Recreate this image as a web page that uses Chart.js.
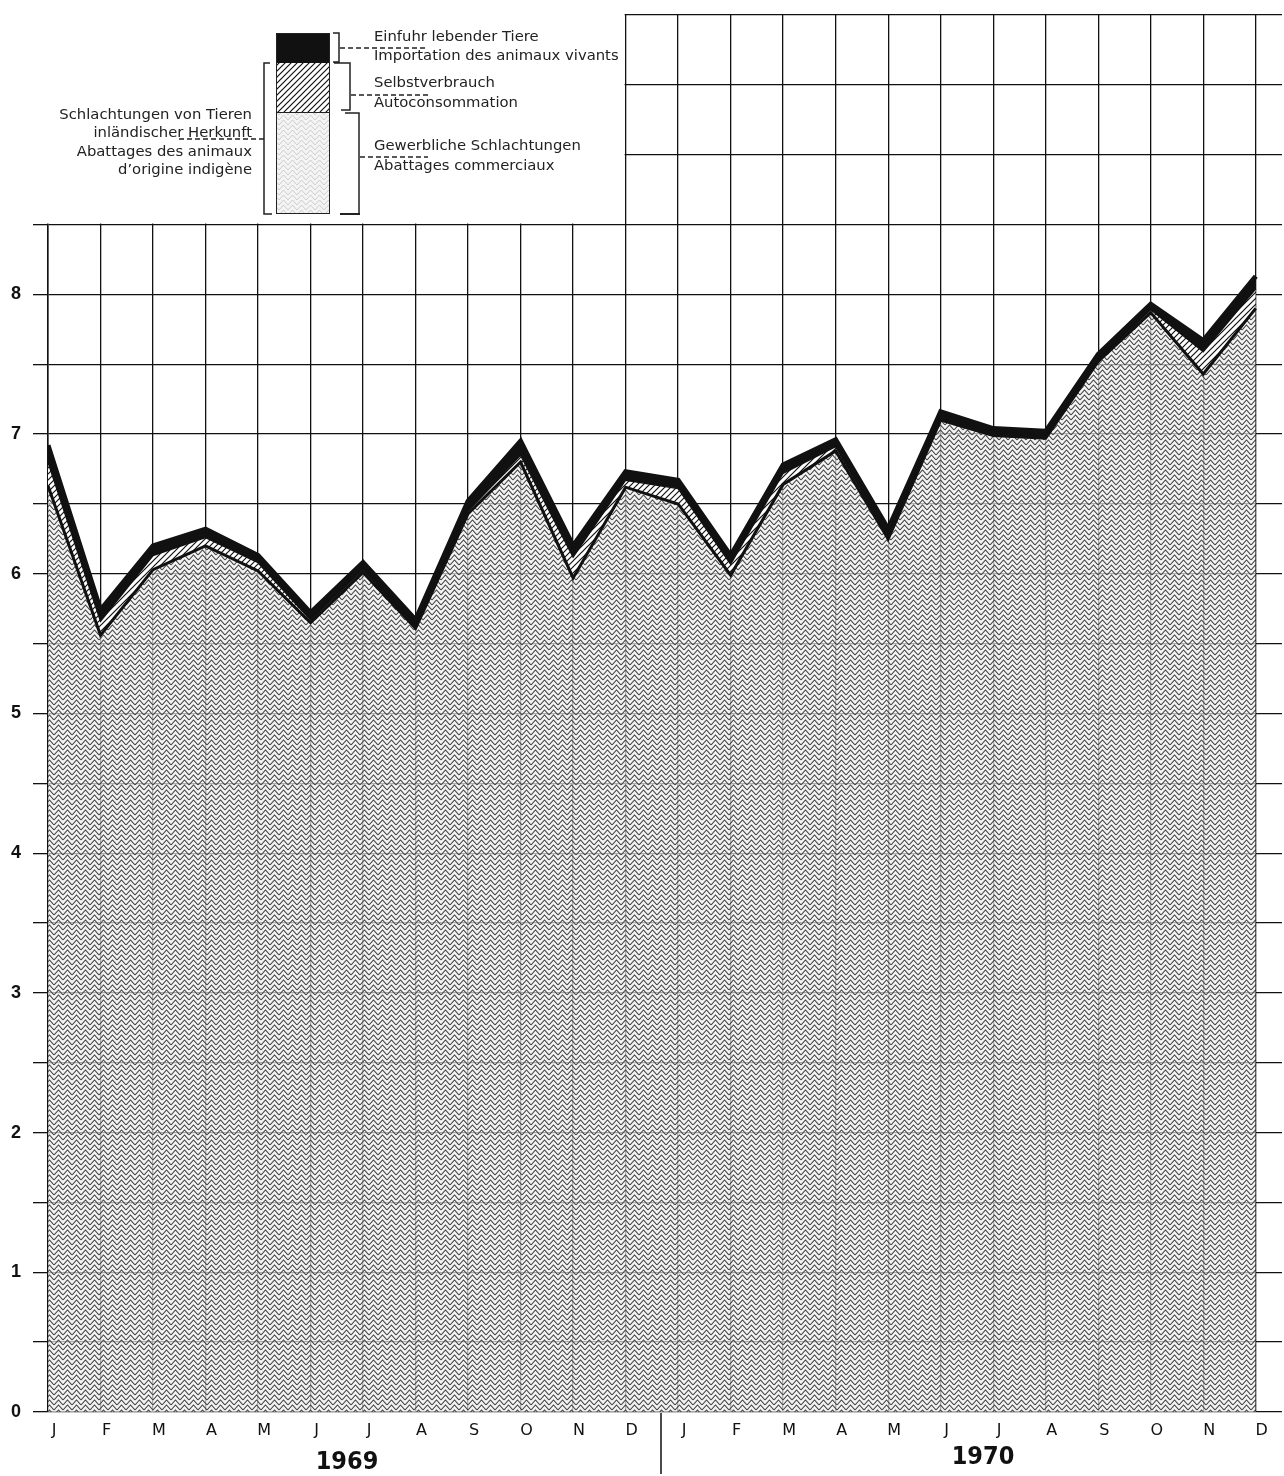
<!DOCTYPE html>
<html>
<head>
<meta charset="utf-8">
<script src="https://cdn.jsdelivr.net/npm/chart.js@4.4.1/dist/chart.umd.min.js"></script>
<style>
  body { margin: 0; background: #ffffff; }
  #wrap { width: 1284px; height: 1476px; position: relative; }
</style>
</head>
<body>
<div id="wrap"><canvas id="slaughterCanvas"></canvas></div>
<script>
// months for both years
const months = ['J', 'F', 'M', 'A', 'M', 'J', 'J', 'A', 'S', 'O', 'N', 'D'];
const monthLabels = months.concat(months);
const years = ['1969', '1970'];

// series values (stacked)
const commercial = [6.63, 5.56, 6.03, 6.20, 6.02, 5.65, 6.01, 5.61, 6.43, 6.80, 5.97, 6.62,
                    6.50, 5.99, 6.64, 6.88, 6.25, 7.10, 6.99, 6.97, 7.52, 7.87, 7.43, 7.90];
const selfUse    = [0.17, 0.10, 0.10, 0.06, 0.06, 0.02, 0.02, 0.01, 0.02, 0.05, 0.15, 0.05,
                    0.11, 0.08, 0.08, 0.03, 0.02, 0.01, 0.01, 0.01, 0.01, 0.02, 0.16, 0.14];
const imports    = [0.12, 0.08, 0.07, 0.06, 0.05, 0.05, 0.05, 0.05, 0.07, 0.10, 0.08, 0.06,
                    0.06, 0.06, 0.06, 0.05, 0.05, 0.05, 0.04, 0.04, 0.04, 0.04, 0.08, 0.09];

const yLabels = ['0', '1', '2', '3', '4', '5', '6', '7', '8'];

const canvas = document.getElementById('slaughterCanvas');
const ctx = canvas.getContext('2d');

// zig-zag texture for the commercial slaughter area
function zigzag(bg, ink, w) {
    const c = document.createElement('canvas');
    c.width = 9; c.height = 5;
    const g = c.getContext('2d');
    g.fillStyle = bg;
    g.fillRect(0, 0, 9, 5);
    g.strokeStyle = ink;
    g.lineWidth = w;
    for (let k = -3; k <= 3; k++) {
        const y0 = k * 5;
        g.beginPath();
        g.moveTo(0, y0 + 5);
        g.lineTo(4.5, y0);
        g.lineTo(9, y0 + 5);
        g.stroke();
    }
    return ctx.createPattern(c, 'repeat');
}

// diagonal hatching for self consumption
function hatch() {
    const c = document.createElement('canvas');
    c.width = 6; c.height = 6;
    const g = c.getContext('2d');
    g.fillStyle = '#ffffff';
    g.fillRect(0, 0, 6, 6);
    g.strokeStyle = '#111';
    g.lineWidth = 1.2;
    g.beginPath();
    g.moveTo(-1, 7); g.lineTo(7, -1);
    g.moveTo(-4, 4); g.lineTo(4, -4);
    g.moveTo(2, 10); g.lineTo(10, 2);
    g.stroke();
    return ctx.createPattern(c, 'repeat');
}

const gray = zigzag('rgba(238,238,238,0.7)', '#404040', 1.05);
const lightGray = zigzag('#f4f4f4', '#c8c8c8', 0.9);
const stripes = hatch();

const toPts = arr => arr.map((v, i) => ({ x: i, y: v }));

// blank the top-left corner where the grid stops, then draw the key
const frame = {
    id: 'frame',
    beforeDatasetsDraw(chart) {
        const x = chart.scales.x, y = chart.scales.y;
        const c = chart.ctx;
        c.save();
        c.fillStyle = '#ffffff';
        c.fillRect(0, 0, x.getPixelForValue(11) - 1, y.getPixelForValue(8.5) - 1);
        c.restore();
    },
    afterDraw(chart) {
        const c = chart.ctx;
        c.save();

        // year labels and divider
        c.strokeStyle = '#111';
        c.lineWidth = 1.5;
        c.beginPath();
        c.moveTo(661, 1413); c.lineTo(661, 1474);
        c.stroke();
        c.fillStyle = '#111';
        c.font = 'bold 25px "DejaVu Sans Condensed", "Liberation Sans", sans-serif';
        c.textAlign = 'center';
        c.textBaseline = 'middle';
        c.fillText(years[0], 347, 1462);
        c.fillText(years[1], 983, 1457);

        // key box
        c.fillStyle = '#111';
        c.fillRect(276, 33, 54, 30);
        c.fillStyle = stripes;
        c.fillRect(276, 63, 54, 49);
        c.fillStyle = lightGray;
        c.fillRect(276, 112, 54, 102);
        c.strokeStyle = '#222';
        c.lineWidth = 1;
        c.strokeRect(276.5, 33.5, 53, 180);
        c.beginPath();
        c.moveTo(276, 112.5); c.lineTo(330, 112.5);
        c.stroke();

        // brackets
        c.lineWidth = 1.5;
        c.beginPath();
        c.moveTo(333, 33); c.lineTo(339, 33); c.lineTo(339, 62); c.lineTo(333, 62);
        c.moveTo(334, 63); c.lineTo(350, 63); c.lineTo(350, 110); c.lineTo(341, 110);
        c.moveTo(345, 113); c.lineTo(359, 113); c.lineTo(359, 213);
        c.moveTo(270, 63); c.lineTo(264, 63); c.lineTo(264, 214); c.lineTo(272, 214);
        c.stroke();
        c.lineWidth = 2;
        c.beginPath();
        c.moveTo(340, 214); c.lineTo(360, 214);
        c.stroke();

        // dashed leaders
        c.lineWidth = 1.5;
        c.setLineDash([5, 3]);
        c.beginPath();
        c.moveTo(340, 48); c.lineTo(428, 48);
        c.moveTo(351, 95); c.lineTo(428, 95);
        c.moveTo(360, 157); c.lineTo(428, 157);
        c.moveTo(264, 139); c.lineTo(176, 139);
        c.stroke();
        c.setLineDash([]);

        // key texts
        c.fillStyle = '#222';
        c.font = '14.8px "DejaVu Sans", sans-serif';
        c.textAlign = 'left';
        c.fillText('Einfuhr lebender Tiere', 374, 37);
        c.fillText('Importation des animaux vivants', 374, 56);
        c.fillText('Selbstverbrauch', 374, 83);
        c.fillText('Autoconsommation', 374, 103);
        c.fillText('Gewerbliche Schlachtungen', 374, 146);
        c.fillText('Abattages commerciaux', 374, 166);
        c.textAlign = 'right';
        c.fillText('Schlachtungen von Tieren', 252, 115);
        c.fillText('inländischer Herkunft', 252, 133);
        c.fillText('Abattages des animaux', 252, 152);
        c.fillText('d\u2019origine indigène', 252, 170);
        c.restore();
    }
};

const slaughterChart = new Chart(ctx, {
    type: 'line',
    data: {
        datasets: [{
            label: 'Gewerbliche Schlachtungen',
            data: toPts(commercial),
            backgroundColor: gray,
            borderColor: '#111',
            borderWidth: 3,
            fill: 'origin',
            pointRadius: 0,
            tension: 0
        }, {
            label: 'Selbstverbrauch',
            data: toPts(selfUse),
            backgroundColor: stripes,
            borderColor: '#111',
            borderWidth: 1.5,
            fill: '-1',
            pointRadius: 0,
            tension: 0
        }, {
            label: 'Einfuhr lebender Tiere',
            data: toPts(imports),
            backgroundColor: '#111',
            borderColor: '#111',
            borderWidth: 5,
            fill: '-1',
            pointRadius: 0,
            tension: 0
        }]
    },
    options: {
        responsive: true,
        maintainAspectRatio: false,
        animation: false,
        layout: { padding: { top: 15, right: 2, left: 0, bottom: 0 } },
        plugins: {
            legend: { display: false },
            tooltip: { enabled: false }
        },
        scales: {
            x: {
                type: 'linear',
                min: 0,
                max: 23.5,
                afterFit(scale) { scale.height = 64; },
                grid: { color: '#111', lineWidth: 1.3, drawTicks: false },
                border: { display: false },
                ticks: {
                    stepSize: 1,
                    includeBounds: false,
                    autoSkip: false,
                    maxRotation: 0,
                    padding: 9,
                    labelOffset: 6,
                    color: '#111',
                    font: { family: '"DejaVu Sans", sans-serif', size: 16 },
                    callback: v => (Number.isInteger(v) && v <= 23) ? monthLabels[v] : ''
                }
            },
            y: {
                stacked: true,
                min: 0,
                max: 10,
                afterFit(scale) {
                    scale.width = 48;
                    scale.paddingTop = 0;
                    scale.paddingBottom = 0;
                },
                grid: { color: '#111', lineWidth: 1.3, tickLength: 15 },
                border: { color: '#111', width: 1.5 },
                ticks: {
                    stepSize: 0.5,
                    padding: 12,
                    color: '#111',
                    font: { family: '"Liberation Sans", Arial, sans-serif', size: 18, weight: 'bold' },
                    callback: v => (Number.isInteger(v) && v <= 8) ? yLabels[v] : ''
                }
            }
        }
    },
    plugins: [frame]
});
</script>
</body>
</html>
